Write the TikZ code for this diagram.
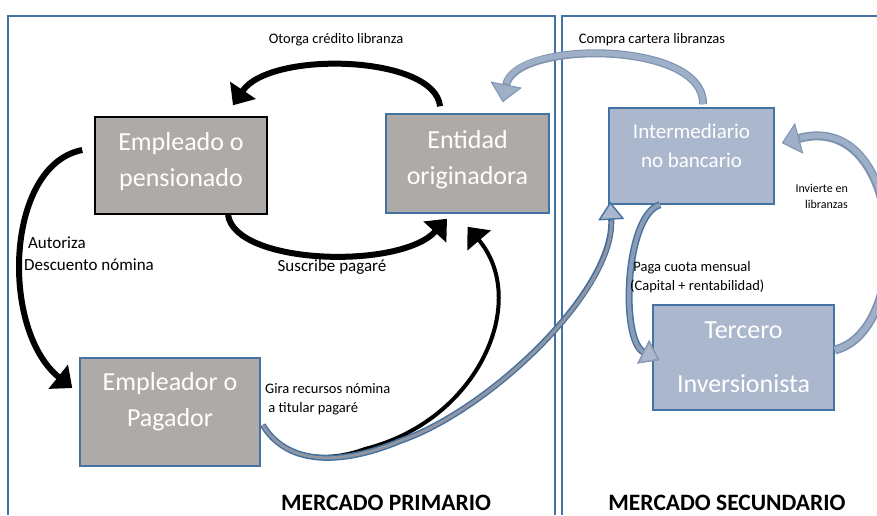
\documentclass[tikz,border=0pt]{standalone}
\usepackage{fontspec}
\setmainfont{Carlito}
\usepackage{tikz}
\usetikzlibrary{arrows.meta,positioning}
\usepackage{xcolor}
\definecolor{mkblue}{RGB}{68,114,163}
\definecolor{mkgray}{RGB}{174,170,167}
\definecolor{mkslate}{RGB}{170,183,204}
\definecolor{mkpale}{RGB}{158,175,200}
\definecolor{mkpaleedge}{RGB}{128,148,178}
\definecolor{mkband}{RGB}{146,150,160}
\definecolor{mkbandblue}{RGB}{140,156,180}
\tikzstyle{panel} = [draw=mkblue, line width=1.6pt]
\tikzstyle{actor} = [rectangle, text=white, align=center, line width=1.5pt, font=\fontsize{26}{36}\selectfont]
\tikzstyle{primary} = [actor, fill=mkgray, draw=mkblue]
\tikzstyle{secondary} = [actor, fill=mkslate, draw=mkblue]
\tikzstyle{lbl} = [font=\fontsize{14.5}{19}\selectfont, inner sep=0pt]
\tikzstyle{biglbl} = [lbl, font=\fontsize{17}{22}\selectfont]
\tikzstyle{blackflow} = [line width=6pt, -{Triangle[length=18pt,width=30pt]}]
\tikzstyle{bandflow} = [draw=mkblue, line width=6pt, postaction={draw=mkband, line width=3pt, shorten >=19pt, -}, -{Triangle[length=18pt,width=26pt,fill=mkslate,line width=1.4pt]}]
\tikzstyle{paleflow} = [draw=mkpaleedge, line width=8pt, postaction={draw=mkpale, line width=5.5pt, shorten >=19pt, -}, -{Triangle[length=18pt,width=32pt,fill=mkpale,line width=1pt]}]

\begin{document}
\begin{tikzpicture}[x=1pt, y=-1pt]
\useasboundingbox (0,0) rectangle (877,515);
% market panels
\draw[panel] (8,515) -- (8,16) -- (555,16) -- (555,515);
\draw[panel] (562,515) -- (562,16) -- (877,16);
\node[font=\fontsize{23.5}{28}\selectfont\bfseries] (primario) at (386,503) {MERCADO PRIMARIO};
\node[font=\fontsize{23.5}{28}\selectfont\bfseries] (secundario) at (727,503) {MERCADO SECUNDARIO};

% actors
\node[primary, draw=black, minimum width=172pt, minimum height=97pt, text depth=12pt] (empleado) at (181,165.5) {Empleado o\\pensionado};
\node[primary, minimum width=163pt, minimum height=99pt, text depth=12pt] (entidad) at (467.5,163.5) {Entidad\\originadora};
\node[primary, minimum width=180pt, minimum height=108pt, text depth=25pt] (empleador) at (170,412) {Empleador o\\Pagador};
\node[secondary, minimum width=165pt, minimum height=96pt, text depth=21pt, font=\fontsize{21}{29}\selectfont] (intermediario) at (691.5,156) {Intermediario\\no bancario};
\node[secondary, minimum width=181pt, minimum height=105pt] (tercero) at (743.5,357.5) {Tercero\\[18pt]Inversionista};

% primary market flows
\draw[blackflow] ([xshift=-27.5pt,yshift=7pt]entidad.north) .. controls (435,55) and (270,50) .. ([xshift=52pt,yshift=11pt]empleado.north);
\draw[blackflow] ([xshift=47pt]empleado.south) .. controls (235,265) and (400,270) .. ([xshift=-20.5pt,yshift=-5pt]entidad.south);
\draw[blackflow] ([xshift=-12pt,yshift=15.5pt]empleado.west) .. controls (5,165) and (0,330) .. ([xshift=-7pt,yshift=24pt]empleador.west);
\draw[blackflow, line width=4pt] ([xshift=2pt,yshift=-13pt]empleador.east) .. controls (285,462) and (330,462) .. (365,449) .. controls (480,420) and (530,300) .. ([xshift=0pt,yshift=-13pt]entidad.south);
\draw[bandflow] ([xshift=2pt,yshift=-13pt]empleador.east) .. controls (290,470) and (350,462) .. (400,441) .. controls (490,410) and (615,290) .. ([xshift=2pt,yshift=3pt]intermediario.south west);

% secondary market flows
\draw[paleflow] ([xshift=11.5pt,yshift=3pt]intermediario.north) .. controls (705,40) and (515,40) .. ([xshift=-47pt,yshift=11pt]entidad.north east);
\draw[bandflow, line width=7pt, postaction={draw=mkbandblue, line width=4pt}] ([xshift=-31.5pt]intermediario.south) .. controls (625,215) and (620,340) .. ([xshift=7pt,yshift=-2.5pt]tercero.west);
\draw[paleflow, line width=9pt] ([yshift=7.5pt]tercero.east) .. controls (915,330) and (905,110) .. ([xshift=7pt,yshift=13pt]intermediario.east);

% flow labels
\node[lbl] (otorga) at (336,40) {Otorga crédito libranza};
\node[lbl] (compra) at (652,40) {Compra cartera libranzas};
\node[biglbl, anchor=west, align=left] (autoriza) at (24,254) {\ Autoriza\\Descuento nómina};
\node[biglbl] (suscribe) at (332,267) {Suscribe pagaré};
\node[lbl, anchor=west, align=left] (gira) at (265,399.5) {Gira recursos nómina\\\ a titular pagaré};
\node[lbl, anchor=west, align=left] (paga) at (630,277.5) {\ Paga cuota mensual\\(Capital + rentabilidad)};
\node[lbl, anchor=east, align=right, font=\fontsize{12}{16}\selectfont] (invierte) at (848,196) {Invierte en\\libranzas};
\end{tikzpicture}
\end{document}
